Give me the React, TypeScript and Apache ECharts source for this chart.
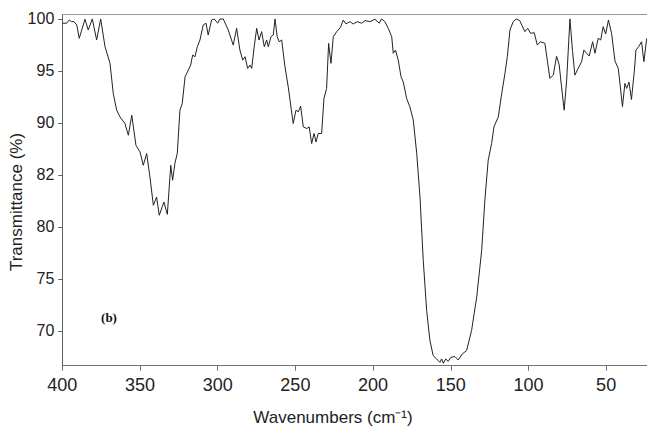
import React, { useEffect, useRef } from "react";
import * as echarts from "echarts";

const wavenumbers: number[] = [
  399.9, 397.2, 395.5, 394.0, 392.5, 390.7, 389.1, 387.5, 385.4, 383.3,
  380.7, 377.9, 375.3, 372.5, 369.3, 367.2, 365.0, 362.9, 359.7, 357.5,
  355.3, 352.6, 350.0, 347.9, 345.7, 343.6, 341.4, 339.3, 337.6, 334.6,
  332.4, 330.2, 329.0, 327.5, 326.0, 324.3, 322.8, 321.0, 318.9, 317.4,
  316.1, 314.6, 313.1, 311.4, 309.3, 307.5, 306.1, 303.9, 302.2, 300.0,
  298.5, 296.4, 293.2, 290.0, 287.8, 285.7, 283.9, 282.4, 280.7, 279.2,
  278.1, 276.5, 274.9, 273.4, 271.7, 270.0, 268.5, 267.4, 265.7, 264.2,
  263.1, 261.7, 260.4, 258.8, 256.7, 254.6, 251.4, 249.6, 248.1, 246.6,
  244.9, 242.7, 241.1, 239.5, 238.0, 236.7, 235.3, 233.1, 231.6, 229.9,
  228.6, 227.1, 225.6, 223.4, 220.9, 219.2, 217.4, 214.9, 212.7, 210.2,
  207.3, 205.2, 202.0, 198.8, 196.0, 194.6, 192.4, 190.2, 188.0, 187.0,
  185.6, 183.8, 182.0, 180.6, 178.4, 176.3, 174.1, 171.9, 169.8, 167.7,
  165.5, 163.4, 161.3, 159.1, 157.0, 155.9, 154.8, 153.3, 151.6, 149.9,
  147.3, 145.2, 142.6, 139.8, 136.6, 133.3, 130.1, 128.0, 125.9, 123.7,
  122.2, 119.4, 117.2, 115.1, 113.6, 111.9, 109.8, 107.9, 105.6, 102.3,
  100.5, 98.6, 96.3, 94.3, 92.2, 89.4, 87.9, 86.2, 84.0, 81.9,
  80.2, 78.7, 77.0, 75.4, 73.3, 71.6, 70.1, 68.0, 65.8, 64.3,
  62.6, 60.9, 58.7, 57.2, 55.1, 53.5, 51.9, 50.3, 48.5, 46.5,
  44.3, 42.2, 41.1, 39.5, 37.9, 36.8, 35.3, 33.7, 31.9, 30.8,
  29.1, 27.2, 25.7, 23.9,
];

const transmittance: number[] = [
  99.59, 99.59, 99.9, 99.74, 99.74, 99.42, 98.14, 98.94, 99.97, 98.94,
  100.0, 97.98, 100.0, 97.33, 95.73, 92.84, 91.23, 90.59, 89.95, 88.82,
  90.75, 87.86, 87.22, 85.93, 87.06, 84.81, 82.08, 82.88, 81.12, 82.4,
  81.21, 85.93, 84.49, 86.13, 87.09, 91.23, 91.88, 94.44, 95.09, 95.57,
  96.53, 96.37, 97.33, 97.98, 99.42, 99.59, 98.46, 99.9, 100.0, 99.59,
  100.0, 100.0, 98.94, 97.49, 99.1, 97.01, 96.05, 96.37, 95.25, 95.57,
  95.25, 97.33, 99.1, 97.98, 98.78, 97.33, 97.98, 97.33, 98.29, 98.46,
  100.0, 98.29, 97.81, 97.98, 95.4, 93.48, 89.95, 91.23, 91.07, 91.62,
  89.62, 89.47, 89.62, 88.02, 88.99, 88.18, 88.99, 88.99, 92.36, 93.32,
  97.66, 95.73, 98.29, 98.78, 99.2, 99.9, 99.52, 99.74, 99.52, 99.74,
  99.59, 99.84, 99.74, 99.97, 99.59, 100.0, 99.74, 99.1, 98.29, 96.7,
  97.01, 96.05, 94.44, 93.96, 92.36, 91.55, 90.27, 87.06, 82.88, 76.78,
  71.96, 69.07, 67.63, 67.31, 66.98, 67.31, 66.89, 67.31, 67.08, 67.47,
  67.53, 67.21, 67.79, 68.11, 70.04, 73.25, 77.74, 82.66, 86.42, 88.02,
  89.62, 90.59, 92.84, 94.77, 96.37, 98.94, 99.74, 100.0, 99.84, 98.78,
  99.1, 98.62, 98.68, 97.5, 97.81, 97.66, 96.05, 94.29, 94.6, 96.41,
  95.57, 93.48, 91.23, 94.12, 100.0, 96.85, 94.6, 95.25, 95.89, 97.01,
  96.7, 96.43, 97.81, 96.7, 98.14, 97.98, 99.26, 98.55, 99.9, 98.62,
  95.95, 95.25, 93.81, 91.57, 93.81, 93.32, 93.93, 92.26, 94.92, 97.01,
  97.33, 97.81, 95.89, 98.14,
];

const xTickValues: number[] = [400, 350, 300, 250, 200, 150, 100, 50];
const yTickValues: number[] = [70, 75, 80, 85, 90, 95, 100];
const yTickLabels: string[] = ["70", "75", "80", "82", "90", "95", "100"];

const xTitle = "Wavenumbers (cm⁻¹)";
const yTitle = "Transmittance (%)";
const panelLabel = "(b)";

const FONT = "'Liberation Sans', Arial, Helvetica, sans-serif";

export default function App() {
  const ref = useRef<HTMLDivElement>(null);

  useEffect(() => {
    document.body.style.margin = "0";
    if (!ref.current) return;
    const chart = echarts.init(ref.current, undefined, { renderer: "svg" });
    const data = wavenumbers.map((w, i) => [w, transmittance[i]]);
    chart.setOption({
      animation: false,
      backgroundColor: "#ffffff",
      grid: { left: 62.3, right: 0, top: 14.7, bottom: 60.3, containLabel: false },
      xAxis: [
        {
          type: "value",
          inverse: true,
          min: 23.7,
          max: 400,
          splitLine: { show: false },
          axisLine: { show: true, lineStyle: { color: "#707070", width: 1 } },
          axisTick: {
            show: true,
            length: 5,
            customValues: xTickValues,
            lineStyle: { color: "#707070" },
          },
          axisLabel: {
            customValues: xTickValues,
            fontFamily: FONT,
            fontSize: 18,
            color: "#222",
            margin: 10,
          },
        },
        {
          type: "value",
          position: "top",
          min: 0,
          max: 1,
          axisLine: { show: true, lineStyle: { color: "#999", width: 1 } },
          axisTick: { show: false },
          axisLabel: { show: false },
          splitLine: { show: false },
        },
      ],
      yAxis: {
        type: "value",
        min: 66.66,
        max: 100.41,
        splitLine: { show: false },
        axisLine: { show: true, lineStyle: { color: "#606060", width: 1 } },
        axisTick: {
          show: true,
          length: 4,
          customValues: yTickValues,
          lineStyle: { color: "#606060" },
        },
        axisLabel: {
          customValues: yTickValues,
          fontFamily: FONT,
          fontSize: 16,
          color: "#222",
          margin: 8,
          formatter: (v: number) => {
            const idx = yTickValues.indexOf(Math.round(v));
            return idx >= 0 ? yTickLabels[idx] : String(v);
          },
        },
      },
      series: [
        {
          type: "line",
          data,
          xAxisIndex: 0,
          symbol: "none",
          showSymbol: false,
          lineStyle: { color: "#222", width: 1 },
          clip: true,
        },
      ],
      graphic: [
        {
          type: "text",
          x: 333,
          y: 417,
          style: {
            text: xTitle,
            fontFamily: FONT,
            fontSize: 17,
            fill: "#222",
            align: "center",
            verticalAlign: "middle",
          },
        },
        {
          type: "text",
          x: 16,
          y: 202,
          rotation: Math.PI / 2,
          style: {
            text: yTitle,
            fontFamily: FONT,
            fontSize: 17,
            fill: "#222",
            align: "center",
            verticalAlign: "middle",
          },
        },
        {
          type: "text",
          x: 109,
          y: 317,
          style: {
            text: panelLabel,
            fontFamily: "'Liberation Serif', 'Times New Roman', serif",
            fontWeight: "bold",
            fontSize: 13,
            fill: "#111",
            align: "center",
            verticalAlign: "middle",
          },
        },
      ],
    });
    return () => chart.dispose();
  }, []);

  return <div ref={ref} style={{ width: 647, height: 426 }} />;
}
